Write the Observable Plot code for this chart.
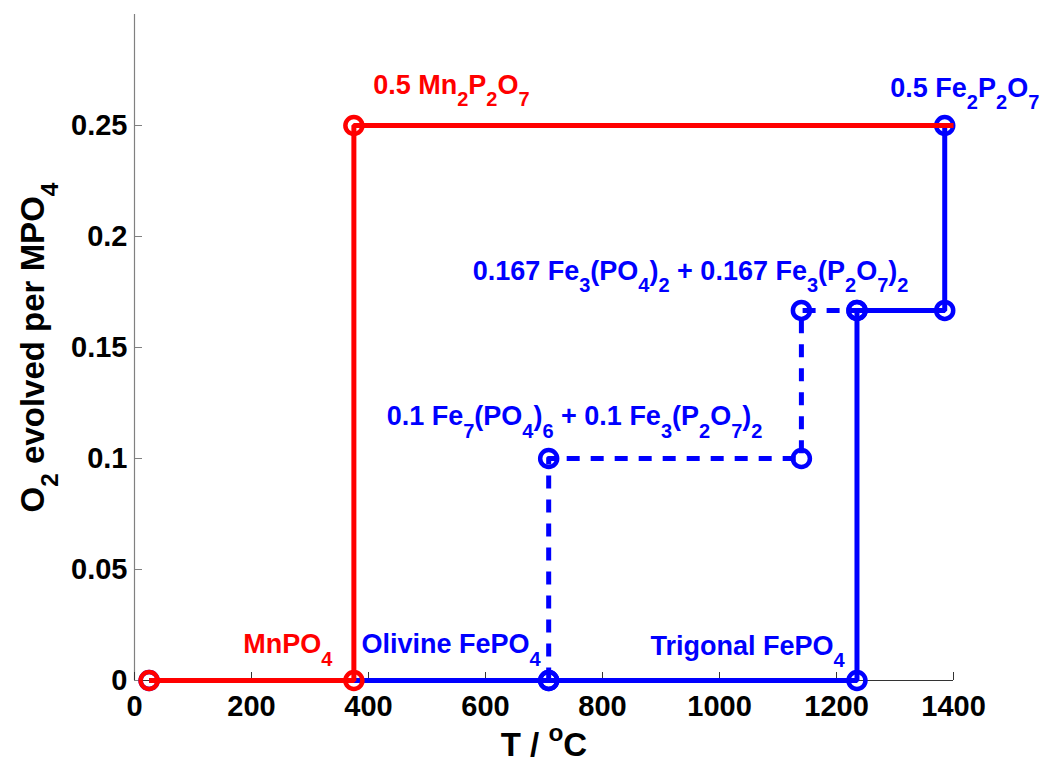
<!DOCTYPE html>
<html><head><meta charset="utf-8">
<script src="https://cdn.jsdelivr.net/npm/d3@7"></script>
<script src="https://cdn.jsdelivr.net/npm/@observablehq/plot@0.6"></script>
<style>body{margin:0;background:#fff}</style>
</head><body><div id="chart"></div>
<script>
// ---- data ----
const xTicks = [0, 200, 400, 600, 800, 1000, 1200, 1400];
const yTicks = [0, 0.05, 0.1, 0.15, 0.2, 0.25];

const mnT = [25, 375, 375, 1400];
const mnO2 = [0, 0, 0.25, 0.25];
const mnMarkT = [25, 375, 375];
const mnMarkO2 = [0, 0, 0.25];

const feSolidT = [25, 708, 1235, 1235, 1385, 1385];
const feSolidO2 = [0, 0, 0, 0.1667, 0.1667, 0.25];
const feDashT = [708, 708, 1140, 1140, 1235];
const feDashO2 = [0, 0.1, 0.1, 0.1667, 0.1667];

const redLabels = ["0.5 Mn_2P_2O_7", "MnPO_4"];
const redLabelT = [408, 186];
const redLabelO2 = [0.2644, 0.0122];

const blueLabels = ["0.5 Fe_2P_2O_7", "0.167 Fe_3(PO_4)_2 + 0.167 Fe_3(P_2O_7)_2",
  "0.1 Fe_7(PO_4)_6 + 0.1 Fe_3(P_2O_7)_2", "Olivine FePO_4", "Trigonal FePO_4"];
const blueLabelT = [1292, 578, 431, 388, 882];
const blueLabelO2 = [0.263, 0.1806, 0.1149, 0.0122, 0.0117];

const xLabel = "T / ^{o}C";
const yLabel = "O_2 evolved per MPO_4";

const RED = "#ff0000", BLUE = "#0000ff";
const FONT = "'Liberation Sans', Arial, Helvetica, sans-serif";
const idx = a => d3.range(a.length);

const chart = Plot.plot({
  width: 1046, height: 764,
  marginLeft: 134, marginRight: 93, marginTop: 14, marginBottom: 84,
  x: {domain: [0, 1400]},
  y: {domain: [0, 0.3]},
  style: {fontFamily: FONT, fontWeight: "bold", fontSize: "29px", background: "white", color: "black"},
  marks: [
    Plot.ruleX([0], {stroke: "#808080", strokeWidth: 1.2}),
    Plot.ruleY([0], {stroke: "#333", strokeWidth: 1.2}),
    Plot.tickX(xTicks, {x: d => d, stroke: "#333", insetTop: 658}),
    Plot.tickY(yTicks, {y: d => d, stroke: "#808080", insetRight: 811}),
    Plot.axisX({ticks: xTicks, tickSize: 0, tickPadding: 15, tickFormat: d => String(d), label: null, fontSize: 29, fontWeight: "bold"}),
    Plot.axisY({ticks: yTicks, tickSize: 0, tickPadding: 7, tickFormat: d => String(d), label: null, fontSize: 29, fontWeight: "bold"}),
    // iron series
    Plot.line(idx(feSolidT), {x: i => feSolidT[i], y: i => feSolidO2[i], stroke: BLUE, strokeWidth: 5, strokeLinejoin: "miter", strokeLinecap: "butt"}),
    Plot.line(idx(feDashT), {x: i => feDashT[i], y: i => feDashO2[i], stroke: BLUE, strokeWidth: 5, strokeDasharray: "13,11", strokeLinecap: "butt"}),
    Plot.dot(idx(feSolidT), {x: i => feSolidT[i], y: i => feSolidO2[i], r: 8.5, stroke: BLUE, strokeWidth: 4.5, fill: "none"}),
    Plot.dot(idx(feDashT), {x: i => feDashT[i], y: i => feDashO2[i], r: 8.5, stroke: BLUE, strokeWidth: 4.5, fill: "none"}),
    // manganese series
    Plot.line(idx(mnT), {x: i => mnT[i], y: i => mnO2[i], stroke: RED, strokeWidth: 5, strokeLinejoin: "miter", strokeLinecap: "butt"}),
    Plot.dot(idx(mnMarkT), {x: i => mnMarkT[i], y: i => mnMarkO2[i], r: 8.5, stroke: RED, strokeWidth: 4.5, fill: "none"}),
    // labels
    Plot.text(idx(redLabels), {x: i => redLabelT[i], y: i => redLabelO2[i], text: i => redLabels[i], fill: RED, textAnchor: "start", lineAnchor: "bottom", fontSize: 27, fontWeight: "bold", fontFamily: FONT}),
    Plot.text(idx(blueLabels), {x: i => blueLabelT[i], y: i => blueLabelO2[i], text: i => blueLabels[i], fill: BLUE, textAnchor: "start", lineAnchor: "bottom", fontSize: 27, fontWeight: "bold", fontFamily: FONT}),
    Plot.text([xLabel], {frameAnchor: "bottom", dy: 75, text: d => d, textAnchor: "middle", lineAnchor: "bottom", fontSize: 33, fontWeight: "bold", fontFamily: FONT, fill: "black"}),
    Plot.text([yLabel], {frameAnchor: "left", dx: -91, rotate: -90, text: d => d, textAnchor: "middle", lineAnchor: "bottom", fontSize: 33, fontWeight: "bold", fontFamily: FONT, fill: "black"})
  ]
});
document.getElementById("chart").appendChild(chart);

// rich text: _x subscript, ^x superscript
function parseRich(s) {
  const runs = []; let i = 0, cur = "";
  while (i < s.length) {
    const c = s[i];
    if (c === "_" || c === "^") {
      if (cur) { runs.push({t: cur, k: 0}); cur = ""; }
      let t;
      if (s[i + 1] === "{") { const j = s.indexOf("}", i + 2); t = s.slice(i + 2, j); i = j + 1; }
      else { t = s[i + 1]; i += 2; }
      runs.push({t, k: c === "_" ? 1 : -1});
    } else { cur += c; i++; }
  }
  if (cur) runs.push({t: cur, k: 0});
  return runs;
}
chart.querySelectorAll("text").forEach(el => {
  const s = el.textContent;
  if (!/[_^]/.test(s)) return;
  const fs = parseFloat(getComputedStyle(el).fontSize);
  const runs = parseRich(s);
  el.textContent = "";
  let off = 0;
  runs.forEach(r => {
    const target = r.k * 0.45 * fs;
    const ts = document.createElementNS("http://www.w3.org/2000/svg", "tspan");
    ts.setAttribute("dy", (target - off).toFixed(2)); off = target;
    if (r.k) ts.setAttribute("font-size", (0.74 * fs).toFixed(1));
    ts.textContent = r.t;
    el.appendChild(ts);
  });
});
</script>
</body></html>
